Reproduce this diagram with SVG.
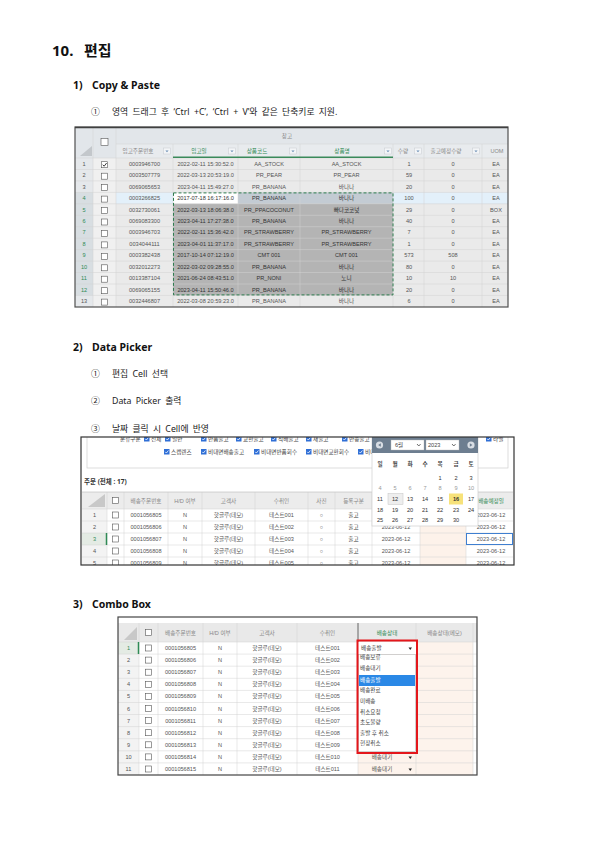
<svg xmlns="http://www.w3.org/2000/svg" width="595" height="841" viewBox="0 0 595 841">
<style>
.h0{font:bold 15px "Noto Sans","Noto Sans CJK KR",sans-serif;fill:#111}
.h1{font:bold 10.5px "Noto Sans","Noto Sans CJK KR",sans-serif;fill:#111}
.it{font:8.8px "Noto Sans","Noto Sans CJK KR",sans-serif;fill:#222}
.t{font:5.6px "Liberation Sans","Noto Sans CJK KR",sans-serif;fill:#555;text-anchor:middle}
.tl{font:5.6px "Liberation Sans","Noto Sans CJK KR",sans-serif;fill:#444}
.dk{fill:#333}
.g{fill:#2f8a55}
.hd{fill:#888}
.grid{stroke:#d3d3d3;stroke-width:0.5}
.cb{fill:#fff;stroke:#555;stroke-width:0.6}
.bcb{fill:#2f6fd6}
.dd{fill:#f3f5f7;stroke:#c5cad0;stroke-width:0.5}
</style>
<defs>
<clipPath id="c2"><rect x="81" y="437" width="433" height="128"/></clipPath>
<g id="blueCheck"><rect class="bcb" x="0" y="0" width="5.5" height="5.5"/><path d="M1.2 2.8 L2.4 4 L4.4 1.5" stroke="#fff" stroke-width="0.8" fill="none"/></g>
<g id="ddb"><rect class="dd" x="-3.5" y="-3" width="7" height="6"/><path d="M-1.6 -0.6 L1.6 -0.6 L0 1.2 Z" fill="#6d8fb5"/></g>
</defs>
<rect width="595" height="841" fill="#fff"/>

<g id="page-text">
<text class="h0" x="52" y="56">10.</text><text class="h0" x="84" y="56">편집</text>
<text class="h1" x="73" y="89">1)</text><text class="h1" x="92" y="89">Copy &amp; Paste</text>
<text class="it" x="91" y="114.5">①</text><text class="it" x="112" y="114.5" word-spacing="2">영역 드래그 후 ‘Ctrl +C’, ‘Ctrl + V’와 같은 단축키로 지원.</text>
<text class="h1" x="73" y="351">2)</text><text class="h1" x="92" y="351">Data Picker</text>
<text class="it" x="91" y="376.5">①</text><text class="it" x="112" y="376.5" word-spacing="2">편집 Cell 선택</text>
<text class="it" x="91" y="403.5">②</text><text class="it" x="112" y="403.5" word-spacing="2">Data Picker 출력</text>
<text class="it" x="91" y="431.5">③</text><text class="it" x="112" y="431.5" word-spacing="2">날짜 클릭 시 Cell에 반영</text>
<text class="h1" x="73" y="608">3)</text><text class="h1" x="92" y="608">Combo Box</text>
</g>

<g id="table-copy-paste">
<rect x="75" y="127" width="433" height="180" fill="#eaeaea"/>
<rect x="75" y="127" width="433" height="31" fill="#e2e6ea"/>
<rect x="116" y="144" width="392" height="14" fill="#e8ebee"/>
<rect x="75" y="158" width="18" height="149" fill="#e5e8eb"/>
<rect x="93" y="158" width="23" height="149" fill="#f0f0f0"/>
<rect x="75" y="192.4" width="18" height="103" fill="#d8dee2"/>
<!-- row 4 -->
<rect x="116" y="192.4" width="57" height="11.4" fill="#e3f0fa"/>
<rect x="173" y="192.4" width="65" height="11.4" fill="#ffffff"/>
<rect x="238" y="192.4" width="155" height="11.4" fill="#c3cbd3"/>
<rect x="393" y="192.4" width="115" height="11.4" fill="#e3f0fa"/>
<rect x="173" y="203.8" width="220" height="91.6" fill="#b4b4b4"/>
<g class="grid">
<path d="M75 169.5H508M75 180.9H508M75 192.4H508M75 203.8H508M75 215.3H508M75 226.7H508M75 238.2H508M75 249.6H508M75 261.1H508M75 272.5H508M75 284H508M75 295.4H508"/>
<path d="M93 127V307M116 127V307M173 144V307M238 144V307M300 144V307M393 144V307M424 144V307M482 144V307M116 144H508M75 158H508"/>
</g>
<path d="M173 157.2H393" stroke="#3a8a5a" stroke-width="1.5"/>
<polygon points="80,156 92,156 92,146" fill="#c3c7cb"/>
<rect class="cb" x="101" y="138.5" width="7" height="7"/>
<text class="t hd" x="287" y="137.5">창고</text>
<text class="t hd" x="138" y="153">입고주문번호</text><use href="#ddb" x="167" y="151"/>
<text class="t g" x="199" y="153">입고일</text><use href="#ddb" x="232" y="151"/>
<text class="t g" x="257" y="153">상품코드</text><use href="#ddb" x="293" y="151"/>
<text class="t g" x="342" y="153">상품명</text><use href="#ddb" x="388" y="151"/>
<text class="t hd" x="403" y="153">수량</text><use href="#ddb" x="418" y="151"/>
<text class="t hd" x="446" y="153">출고예정수량</text><use href="#ddb" x="476" y="151"/>
<text class="t hd" x="497" y="153">UOM</text>
<!-- checkboxes -->
<g>
<rect class="cb" x="101.5" y="161.7" width="6" height="6"/><path d="M102.7 164.8 L104.2 166.2 L106.6 163" stroke="#222" stroke-width="0.9" fill="none"/>
<rect class="cb" x="101.5" y="173.2" width="6" height="6"/>
<rect class="cb" x="101.5" y="184.6" width="6" height="6"/>
<rect class="cb" x="101.5" y="196.1" width="6" height="6"/>
<rect class="cb" x="101.5" y="207.5" width="6" height="6"/>
<rect class="cb" x="101.5" y="219" width="6" height="6"/>
<rect class="cb" x="101.5" y="230.4" width="6" height="6"/>
<rect class="cb" x="101.5" y="241.9" width="6" height="6"/>
<rect class="cb" x="101.5" y="253.3" width="6" height="6"/>
<rect class="cb" x="101.5" y="264.8" width="6" height="6"/>
<rect class="cb" x="101.5" y="276.2" width="6" height="6"/>
<rect class="cb" x="101.5" y="287.7" width="6" height="6"/>
<rect class="cb" x="101.5" y="299.1" width="6" height="6"/>
</g>
<g>
<text class="t" x="84" y="165.7">1</text><text class="t" x="84" y="177.2">2</text><text class="t" x="84" y="188.6">3</text>
<text class="t g" x="84" y="200.1">4</text><text class="t g" x="84" y="211.5">5</text><text class="t g" x="84" y="223">6</text>
<text class="t g" x="84" y="234.4">7</text><text class="t g" x="84" y="245.9">8</text><text class="t g" x="84" y="257.3">9</text>
<text class="t g" x="84" y="268.8">10</text><text class="t g" x="84" y="280.2">11</text><text class="t g" x="84" y="291.7">12</text>
<text class="t" x="84" y="303.1">13</text>
</g>
<g>
<text class="t" x="144.5" y="165.7">0003946700</text><text class="t" x="205.5" y="165.7">2022-02-11 15:30:52.0</text><text class="t" x="269" y="165.7">AA_STOCK</text><text class="t" x="346.5" y="165.7">AA_STOCK</text><text class="t" x="409" y="165.7">1</text><text class="t" x="453" y="165.7">0</text><text class="t" x="496" y="165.7">EA</text>
<text class="t" x="144.5" y="177.2">0003507779</text><text class="t" x="205.5" y="177.2">2022-03-13 20:53:19.0</text><text class="t" x="269" y="177.2">PR_PEAR</text><text class="t" x="346.5" y="177.2">PR_PEAR</text><text class="t" x="409" y="177.2">59</text><text class="t" x="453" y="177.2">0</text><text class="t" x="496" y="177.2">EA</text>
<text class="t" x="144.5" y="188.6">0069065653</text><text class="t" x="205.5" y="188.6">2023-04-11 15:49:27.0</text><text class="t" x="269" y="188.6">PR_BANANA</text><text class="t" x="346.5" y="188.6">바나나</text><text class="t" x="409" y="188.6">20</text><text class="t" x="453" y="188.6">0</text><text class="t" x="496" y="188.6">EA</text>
<text class="t" x="144.5" y="200.1">0003266825</text><text class="t dk" x="205.5" y="200.1">2017-07-18 16:17:16.0</text><text class="t dk" x="269" y="200.1">PR_BANANA</text><text class="t dk" x="346.5" y="200.1">바나나</text><text class="t" x="409" y="200.1">100</text><text class="t" x="453" y="200.1">0</text><text class="t" x="496" y="200.1">EA</text>
<text class="t" x="144.5" y="211.5">0032730061</text><text class="t dk" x="205.5" y="211.5">2022-03-13 18:06:38.0</text><text class="t dk" x="269" y="211.5">PR_PPACOCONUT</text><text class="t dk" x="346.5" y="211.5">빠다코코넛</text><text class="t" x="409" y="211.5">29</text><text class="t" x="453" y="211.5">0</text><text class="t" x="496" y="211.5">BOX</text>
<text class="t" x="144.5" y="223">0069083300</text><text class="t dk" x="205.5" y="223">2023-04-11 17:27:38.0</text><text class="t dk" x="269" y="223">PR_BANANA</text><text class="t dk" x="346.5" y="223">바나나</text><text class="t" x="409" y="223">40</text><text class="t" x="453" y="223">0</text><text class="t" x="496" y="223">EA</text>
<text class="t" x="144.5" y="234.4">0003946703</text><text class="t dk" x="205.5" y="234.4">2022-02-11 15:36:42.0</text><text class="t dk" x="269" y="234.4">PR_STRAWBERRY</text><text class="t dk" x="346.5" y="234.4">PR_STRAWBERRY</text><text class="t" x="409" y="234.4">7</text><text class="t" x="453" y="234.4">0</text><text class="t" x="496" y="234.4">EA</text>
<text class="t" x="144.5" y="245.9">0034044111</text><text class="t dk" x="205.5" y="245.9">2023-04-01 11:37:17.0</text><text class="t dk" x="269" y="245.9">PR_STRAWBERRY</text><text class="t dk" x="346.5" y="245.9">PR_STRAWBERRY</text><text class="t" x="409" y="245.9">1</text><text class="t" x="453" y="245.9">0</text><text class="t" x="496" y="245.9">EA</text>
<text class="t" x="144.5" y="257.3">0003382438</text><text class="t dk" x="205.5" y="257.3">2017-10-14 07:12:19.0</text><text class="t dk" x="269" y="257.3">CMT 001</text><text class="t dk" x="346.5" y="257.3">CMT 001</text><text class="t" x="409" y="257.3">573</text><text class="t" x="453" y="257.3">508</text><text class="t" x="496" y="257.3">EA</text>
<text class="t" x="144.5" y="268.8">0032012273</text><text class="t dk" x="205.5" y="268.8">2022-03-02 09:28:55.0</text><text class="t dk" x="269" y="268.8">PR_BANANA</text><text class="t dk" x="346.5" y="268.8">바나나</text><text class="t" x="409" y="268.8">80</text><text class="t" x="453" y="268.8">0</text><text class="t" x="496" y="268.8">EA</text>
<text class="t" x="144.5" y="280.2">0013387104</text><text class="t dk" x="205.5" y="280.2">2021-06-24 08:43:51.0</text><text class="t dk" x="269" y="280.2">PR_NONI</text><text class="t dk" x="346.5" y="280.2">노니</text><text class="t" x="409" y="280.2">10</text><text class="t" x="453" y="280.2">10</text><text class="t" x="496" y="280.2">EA</text>
<text class="t" x="144.5" y="291.7">0069065155</text><text class="t dk" x="205.5" y="291.7">2023-04-11 15:50:46.0</text><text class="t dk" x="269" y="291.7">PR_BANANA</text><text class="t dk" x="346.5" y="291.7">바나나</text><text class="t" x="409" y="291.7">20</text><text class="t" x="453" y="291.7">0</text><text class="t" x="496" y="291.7">EA</text>
<text class="t" x="144.5" y="303.1">0032446807</text><text class="t" x="205.5" y="303.1">2022-03-08 20:59:23.0</text><text class="t" x="269" y="303.1">PR_BANANA</text><text class="t" x="346.5" y="303.1">바나나</text><text class="t" x="409" y="303.1">6</text><text class="t" x="453" y="303.1">0</text><text class="t" x="496" y="303.1">EA</text>
</g>
<rect x="173.5" y="192.9" width="219.5" height="102" fill="none" stroke="#2f7d4f" stroke-width="1" stroke-dasharray="3,2"/>
<rect x="75" y="127" width="433" height="180" fill="none" stroke="#505050" stroke-width="1.2"/>
<path d="M75 127.5H508" stroke="#404040" stroke-width="1.5"/>
</g>

<g id="table-data-picker">
<rect x="81" y="437" width="433" height="128" fill="#fff"/>
<g clip-path="url(#c2)">
<rect x="87" y="428" width="421" height="40" fill="none" stroke="#cfcfcf" stroke-width="0.7"/>
<text class="tl" x="120" y="441">분류구분</text>
<use href="#blueCheck" x="144" y="436"/><text class="tl" x="151" y="441">전체</text>
<use href="#blueCheck" x="165" y="436"/><text class="tl" x="172" y="441">일반</text>
<use href="#blueCheck" x="201" y="436"/><text class="tl" x="208" y="441">반품출고</text>
<use href="#blueCheck" x="236" y="436"/><text class="tl" x="243" y="441">교환출고</text>
<use href="#blueCheck" x="271" y="436"/><text class="tl" x="278" y="441">직배출고</text>
<use href="#blueCheck" x="306" y="436"/><text class="tl" x="313" y="441">재출고</text>
<use href="#blueCheck" x="342" y="436"/><text class="tl" x="349" y="441">반송출고</text>
<use href="#blueCheck" x="486" y="436"/><text class="tl" x="493" y="441">라벨</text>
<use href="#blueCheck" x="164" y="449"/><text class="tl" x="171" y="454">스캡렌즈</text>
<use href="#blueCheck" x="201" y="449"/><text class="tl" x="208" y="454">비대면배송출고</text>
<use href="#blueCheck" x="254" y="449"/><text class="tl" x="261" y="454">비대면반품회수</text>
<use href="#blueCheck" x="306" y="449"/><text class="tl" x="313" y="454">비대면교환회수</text>
<use href="#blueCheck" x="358" y="449"/><text class="tl" x="365" y="454">비대면</text>
<text x="84" y="484" style="font:bold 6.5px 'Noto Sans','Noto Sans CJK KR',sans-serif;fill:#333">주문 (전체 : 17)</text>
<rect x="82" y="492" width="431" height="17" fill="#ececec"/>
<rect x="82" y="509" width="25" height="60" fill="#f3f3f3"/>
<rect x="82" y="533" width="25" height="12" fill="#e4ebe4"/>
<rect x="420" y="509" width="46" height="60" fill="#fdf2ea"/>
<polygon points="88,507 105,507 105,494" fill="#c8c8c8"/>
<g class="grid">
<path d="M82 509H513M82 521H513M82 533H513M82 545H513M82 557H513"/>
<path d="M107 492V569M124 492V569M168 492V569M202 492V569M255 492V569M308 492V569M335 492V569M372 492V569M420 492V569M466 492V569"/>
</g>
<path d="M82 492H513" stroke="#bbb" stroke-width="0.6"/>
<path d="M106.5 533V545" stroke="#2f8a55" stroke-width="1.5"/>
<rect class="cb" x="112.5" y="497.5" width="6" height="6"/>
<text class="t hd" x="146" y="502.5">배송주문번호</text>
<text class="t hd" x="185" y="502.5">H/D 여부</text>
<text class="t hd" x="228.5" y="502.5">고객사</text>
<text class="t hd" x="281.5" y="502.5">수취인</text>
<text class="t hd" x="321.5" y="502.5">사진</text>
<text class="t hd" x="353.5" y="502.5">등록구분</text>
<text class="t g" x="491" y="502.5">배송예정일</text>
<g>
<rect class="cb" x="112.5" y="512" width="6" height="6"/><rect class="cb" x="112.5" y="524" width="6" height="6"/><rect class="cb" x="112.5" y="536" width="6" height="6"/><rect class="cb" x="112.5" y="548" width="6" height="6"/><rect class="cb" x="112.5" y="560" width="6" height="6"/>
<text class="t" x="94.5" y="517">1</text><text class="t" x="94.5" y="529">2</text><text class="t g" x="94.5" y="541">3</text><text class="t" x="94.5" y="553">4</text><text class="t" x="94.5" y="565">5</text>
<text class="t" x="146" y="517">0001056805</text><text class="t" x="146" y="529">0001056806</text><text class="t" x="146" y="541">0001056807</text><text class="t" x="146" y="553">0001056808</text><text class="t" x="146" y="565">0001056809</text>
<text class="t" x="185" y="517">N</text><text class="t" x="185" y="529">N</text><text class="t" x="185" y="541">N</text><text class="t" x="185" y="553">N</text><text class="t" x="185" y="565">N</text>
<text class="t" x="228.5" y="517">핫글루(데모)</text><text class="t" x="228.5" y="529">핫글루(데모)</text><text class="t" x="228.5" y="541">핫글루(데모)</text><text class="t" x="228.5" y="553">핫글루(데모)</text><text class="t" x="228.5" y="565">핫글루(데모)</text>
<text class="t" x="281.5" y="517">테스트001</text><text class="t" x="281.5" y="529">테스트002</text><text class="t" x="281.5" y="541">테스트003</text><text class="t" x="281.5" y="553">테스트004</text><text class="t" x="281.5" y="565">테스트005</text>
<text class="t" x="321.5" y="517">○</text><text class="t" x="321.5" y="529">○</text><text class="t" x="321.5" y="541">○</text><text class="t" x="321.5" y="553">○</text><text class="t" x="321.5" y="565">○</text>
<text class="t dk" x="353.5" y="517" font-weight="bold">출고</text><text class="t dk" x="353.5" y="529" font-weight="bold">출고</text><text class="t dk" x="353.5" y="541" font-weight="bold">출고</text><text class="t dk" x="353.5" y="553" font-weight="bold">출고</text><text class="t dk" x="353.5" y="565" font-weight="bold">출고</text>
<text class="t" x="396" y="529">2023-06-12</text><text class="t" x="396" y="541">2023-06-12</text><text class="t" x="396" y="553">2023-06-12</text><text class="t" x="396" y="565">2023-06-12</text>
<text class="t" x="491" y="517">2023-06-12</text><text class="t" x="491" y="529">2023-06-12</text><text class="t" x="491" y="541">2023-06-12</text><text class="t" x="491" y="553">2023-06-12</text><text class="t" x="491" y="565">2023-06-12</text>
</g>
<rect x="466.5" y="533.5" width="46" height="11" fill="none" stroke="#3f7fd0" stroke-width="1"/>
<g id="calendar">
<rect x="372" y="437" width="106" height="89" fill="#fff" stroke="#cfcfcf" stroke-width="0.7"/>
<rect x="372" y="437" width="106" height="16" fill="#6d7e90"/>
<circle cx="379.5" cy="445" r="3.6" fill="#d9dee4"/><path d="M380.8 443.2 L378.2 445 L380.8 446.8Z" fill="#6d7e90"/>
<circle cx="471" cy="445" r="3.6" fill="#d9dee4"/><path d="M469.8 443.2 L472.4 445 L469.8 446.8Z" fill="#6d7e90"/>
<rect x="391" y="440" width="33" height="10" fill="#fff" stroke="#bbb" stroke-width="0.4"/>
<text class="tl" x="395" y="447.2">6월</text><path d="M417 444 L418.8 446 L420.6 444" stroke="#333" stroke-width="0.7" fill="none"/>
<rect x="426" y="440" width="33" height="10" fill="#fff" stroke="#bbb" stroke-width="0.4"/>
<text class="tl" x="428" y="447.2">2023</text><path d="M452 444 L453.8 446 L455.6 444" stroke="#333" stroke-width="0.7" fill="none"/>
<g class="t" style="fill:#444;font-weight:bold">
<text x="380" y="466">일</text><text x="395" y="466">월</text><text x="410" y="466">화</text><text x="425" y="466">수</text><text x="440" y="466">목</text><text x="456" y="466">금</text><text x="471" y="466">토</text>
</g>
<rect x="388" y="493.5" width="15" height="11" fill="#eeeeee" stroke="#c4c4c4" stroke-width="0.5"/>
<rect x="449" y="493.5" width="14" height="11" fill="#f7e27a"/>
<g class="t" style="fill:#333">
<text x="440" y="480">1</text><text x="456" y="480">2</text><text x="471" y="480">3</text>
</g>
<g class="t" style="fill:#999">
<text x="380" y="490">4</text><text x="395" y="490">5</text><text x="410" y="490">6</text><text x="425" y="490">7</text><text x="440" y="490">8</text><text x="456" y="490">9</text><text x="471" y="490">10</text>
</g>
<g class="t" style="fill:#333">
<text x="380" y="501">11</text><text x="395" y="501">12</text><text x="410" y="501">13</text><text x="425" y="501">14</text><text x="440" y="501">15</text><text x="456" y="501" font-weight="bold">16</text><text x="471" y="501">17</text>
<text x="380" y="512">18</text><text x="395" y="512">19</text><text x="410" y="512">20</text><text x="425" y="512">21</text><text x="440" y="512">22</text><text x="456" y="512">23</text><text x="471" y="512">24</text>
<text x="380" y="522">25</text><text x="395" y="522">26</text><text x="410" y="522">27</text><text x="425" y="522">28</text><text x="440" y="522">29</text><text x="456" y="522">30</text>
</g>
</g>
</g>
<rect x="81" y="437" width="433" height="128" fill="none" stroke="#333" stroke-width="1.2"/>
</g>

<g id="table-combo-box">
<rect x="118" y="617" width="359" height="158" fill="#fff"/>
<rect x="118" y="623" width="359" height="19" fill="#e9e9e9"/>
<rect x="118" y="642" width="21" height="133" fill="#f3f3f3"/>
<rect x="118" y="642" width="21" height="12.1" fill="#e4ebe4"/>
<rect x="358" y="642" width="115" height="133" fill="#fdf3ec"/>
<polygon points="124,640 137,640 137,627" fill="#c8c8c8"/>
<g class="grid">
<path d="M118 654.1H477M118 666.2H477M118 678.3H477M118 690.4H477M118 702.5H477M118 714.5H477M118 726.6H477M118 738.7H477M118 750.8H477M118 762.9H477"/>
<path d="M139 623V775M158 623V775M203 623V775M237 623V775M297 623V775M358 642V775M416 623V775M473 623V775M118 642H477"/>
</g>
<path d="M358 623V642" stroke="#555" stroke-width="0.9"/>
<path d="M138.5 642V654" stroke="#2f8a55" stroke-width="1.5"/>
<rect class="cb" x="145.5" y="629.5" width="6" height="6"/>
<text class="t hd" x="180.5" y="635">배송주문번호</text>
<text class="t hd" x="220" y="635">H/D 여부</text>
<text class="t hd" x="267" y="635">고객사</text>
<text class="t hd" x="327.5" y="635">수취인</text>
<text class="t g" x="387" y="635" font-weight="bold">배송상태</text>
<text class="t hd" x="444.5" y="635">배송상태(메모)</text>
<g>
<rect class="cb" x="145.5" y="645" width="6" height="6"/><rect class="cb" x="145.5" y="657.1" width="6" height="6"/><rect class="cb" x="145.5" y="669.2" width="6" height="6"/><rect class="cb" x="145.5" y="681.3" width="6" height="6"/><rect class="cb" x="145.5" y="693.4" width="6" height="6"/><rect class="cb" x="145.5" y="705.5" width="6" height="6"/><rect class="cb" x="145.5" y="717.6" width="6" height="6"/><rect class="cb" x="145.5" y="729.7" width="6" height="6"/><rect class="cb" x="145.5" y="741.8" width="6" height="6"/><rect class="cb" x="145.5" y="753.9" width="6" height="6"/><rect class="cb" x="145.5" y="766" width="6" height="6"/>
<text class="t g" x="128.5" y="650">1</text><text class="t" x="128.5" y="662.1">2</text><text class="t" x="128.5" y="674.2">3</text><text class="t" x="128.5" y="686.3">4</text><text class="t" x="128.5" y="698.4">5</text><text class="t" x="128.5" y="710.5">6</text><text class="t" x="128.5" y="722.6">7</text><text class="t" x="128.5" y="734.7">8</text><text class="t" x="128.5" y="746.8">9</text><text class="t" x="128.5" y="758.9">10</text><text class="t" x="128.5" y="771">11</text>
<text class="t" x="180.5" y="650">0001056805</text><text class="t" x="180.5" y="662.1">0001056806</text><text class="t" x="180.5" y="674.2">0001056807</text><text class="t" x="180.5" y="686.3">0001056808</text><text class="t" x="180.5" y="698.4">0001056809</text><text class="t" x="180.5" y="710.5">0001056810</text><text class="t" x="180.5" y="722.6">0001056811</text><text class="t" x="180.5" y="734.7">0001056812</text><text class="t" x="180.5" y="746.8">0001056813</text><text class="t" x="180.5" y="758.9">0001056814</text><text class="t" x="180.5" y="771">0001056815</text>
<text class="t" x="220" y="650">N</text><text class="t" x="220" y="662.1">N</text><text class="t" x="220" y="674.2">N</text><text class="t" x="220" y="686.3">N</text><text class="t" x="220" y="698.4">N</text><text class="t" x="220" y="710.5">N</text><text class="t" x="220" y="722.6">N</text><text class="t" x="220" y="734.7">N</text><text class="t" x="220" y="746.8">N</text><text class="t" x="220" y="758.9">N</text><text class="t" x="220" y="771">N</text>
<text class="t" x="267" y="650">핫글루(데모)</text><text class="t" x="267" y="662.1">핫글루(데모)</text><text class="t" x="267" y="674.2">핫글루(데모)</text><text class="t" x="267" y="686.3">핫글루(데모)</text><text class="t" x="267" y="698.4">핫글루(데모)</text><text class="t" x="267" y="710.5">핫글루(데모)</text><text class="t" x="267" y="722.6">핫글루(데모)</text><text class="t" x="267" y="734.7">핫글루(데모)</text><text class="t" x="267" y="746.8">핫글루(데모)</text><text class="t" x="267" y="758.9">핫글루(데모)</text><text class="t" x="267" y="771">핫글루(데모)</text>
<text class="t" x="327.5" y="650">테스트001</text><text class="t" x="327.5" y="662.1">테스트002</text><text class="t" x="327.5" y="674.2">테스트003</text><text class="t" x="327.5" y="686.3">테스트004</text><text class="t" x="327.5" y="698.4">테스트005</text><text class="t" x="327.5" y="710.5">테스트006</text><text class="t" x="327.5" y="722.6">테스트007</text><text class="t" x="327.5" y="734.7">테스트008</text><text class="t" x="327.5" y="746.8">테스트009</text><text class="t" x="327.5" y="758.9">테스트010</text><text class="t" x="327.5" y="771">테스트011</text>
</g>
<g id="combo-open">
<rect x="358" y="642" width="58" height="12" fill="#fff"/>
<text class="tl" x="361" y="650">배송출발</text><path d="M408.5 647.5 L412 647.5 L410.25 650Z" fill="#222"/>
<rect x="358.5" y="654.5" width="57" height="97" fill="#fff" stroke="#aaa" stroke-width="0.5"/>
<rect x="359" y="675" width="56" height="11" fill="#2a88e6"/>
<text class="tl" x="360" y="659">배송보류</text>
<text class="tl" x="360" y="670">배송대기</text>
<text class="tl" x="360" y="682" style="fill:#fff">배송출발</text>
<text class="tl" x="360" y="692">배송완료</text>
<text class="tl" x="360" y="703">미배송</text>
<text class="tl" x="360" y="714">취소요청</text>
<text class="tl" x="360" y="724">초도불량</text>
<text class="tl" x="360" y="735">출발 후 취소</text>
<text class="tl" x="360" y="745">현장취소</text>
<rect x="357.5" y="640.5" width="59.5" height="112.5" fill="none" stroke="#e4161b" stroke-width="2"/>
</g>
<text class="t" x="382" y="758.9">배송대기</text><path d="M408.5 756.5 L412 756.5 L410.25 759Z" fill="#222"/>
<text class="t" x="382" y="771">배송대기</text><path d="M408.5 768.6 L412 768.6 L410.25 771.1Z" fill="#222"/>
<rect x="118" y="617" width="359" height="158" fill="none" stroke="#444" stroke-width="1.2"/>
</g>
</svg>
